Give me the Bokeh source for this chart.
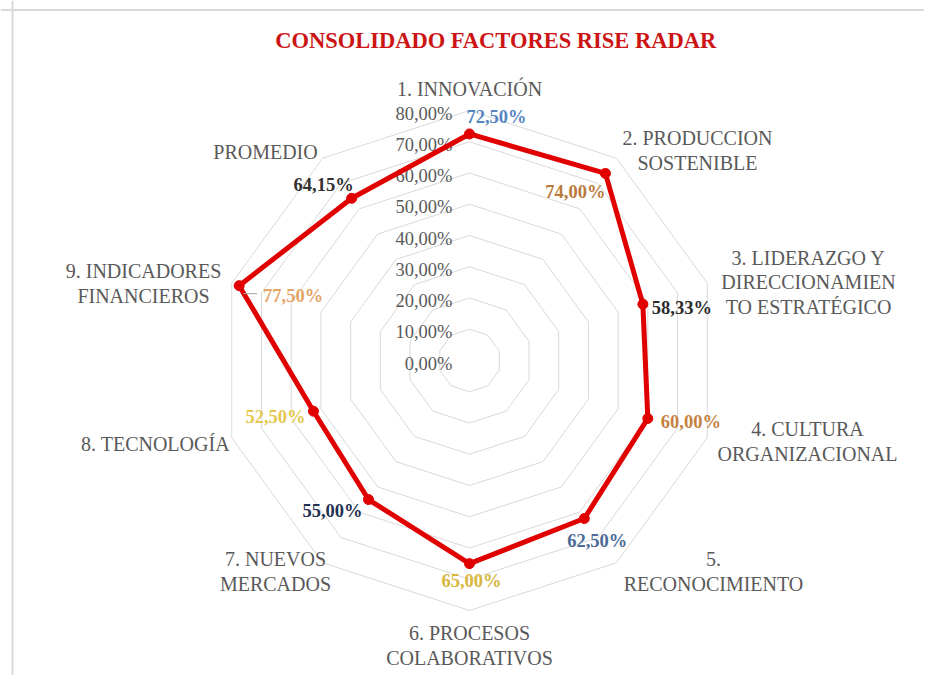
import math
from bokeh.plotting import figure
from bokeh.models import Range1d, ColumnDataSource, Span
from bokeh.core.properties import value
from bokeh.embed import file_html
from bokeh.resources import INLINE

# ---------------- data ----------------
categories = [
    "1. INNOVACIÓN",
    "2. PRODUCCION\nSOSTENIBLE",
    "3. LIDERAZGO Y\nDIRECCIONAMIEN\nTO ESTRATÉGICO",
    "4. CULTURA\nORGANIZACIONAL",
    "5.\nRECONOCIMIENTO",
    "6. PROCESOS\nCOLABORATIVOS",
    "7. NUEVOS\nMERCADOS",
    "8. TECNOLOGÍA",
    "9. INDICADORES\nFINANCIEROS",
    "PROMEDIO",
]
values = [72.50, 74.00, 58.33, 60.00, 62.50, 65.00, 55.00, 52.50, 77.50, 64.15]
value_labels = ["72,50%", "74,00%", "58,33%", "60,00%", "62,50%",
                "65,00%", "55,00%", "52,50%", "77,50%", "64,15%"]
ticks = [0, 10, 20, 30, 40, 50, 60, 70, 80]
tick_labels = ["0,00%", "10,00%", "20,00%", "30,00%", "40,00%",
               "50,00%", "60,00%", "70,00%", "80,00%"]

# ---------------- styles / layout ----------------
SERIF = value("Liberation Serif")
label_colors = ["#5585c0", "#b97a3c", "#2b2b2b", "#c4823e", "#4d6a96",
                "#d8b53c", "#1f3152", "#e4c74e", "#e3a467", "#333333"]
# data label offsets from their point (screen px: dx right, dy down)
label_offsets = [(27, -17), (-30, 19), (39, 4), (43, 4), (13, 22),
                 (2, 17), (-36, 11), (-38, 6), (54, 10), (-28, -13)]
# category label centres relative to chart centre (screen px)
cat_pos = [(0, -272), (228, -210), (339, -78), (338, 81), (244, 211),
           (0, 285), (-194, 211), (-314, 83), (-326, -77), (-204, -209)]

S = 3.125  # px per percentage unit
W, H = 924, 675
CX, CY = 469, 360  # chart centre in canvas px

def px_to_data(dx, dy):
    return dx / S, -dy / S

n = len(categories)
angles = [2 * math.pi * i / n for i in range(n)]  # clockwise from top

def polar(r, a):
    return r * math.sin(a), r * math.cos(a)

p = figure(width=W, height=H, output_backend="svg", toolbar_location=None,
           x_range=Range1d(-CX / S, (W - CX) / S),
           y_range=Range1d(-(H - CY) / S, CY / S),
           min_border=0)
p.axis.visible = False
p.grid.visible = False
p.outline_line_color = None
p.background_fill_color = "white"
p.border_fill_color = "white"

# frame border (top and left)
p.add_layout(Span(location=(CY - 9.5) / S, dimension="width",
                  line_color="#dadada", line_width=2))
p.add_layout(Span(location=-(CX - 12) / S, dimension="height",
                  line_color="#dadada", line_width=2))

# concentric decagon rings
for t in ticks[1:]:
    xs = [polar(t, a)[0] for a in angles] + [polar(t, angles[0])[0]]
    ys = [polar(t, a)[1] for a in angles] + [polar(t, angles[0])[1]]
    p.line(xs, ys, line_color="#d9d9d9", line_width=1)

# tick labels
p.text(x=[-17 / S] * len(ticks), y=[t - 1.0 for t in ticks], text=tick_labels,
       text_align="right", text_baseline="middle",
       text_font=SERIF, text_font_size="18.5px",
       text_color="#595959")

# data series
px_ = [polar(v, a)[0] for v, a in zip(values, angles)]
py_ = [polar(v, a)[1] for v, a in zip(values, angles)]
p.line(px_ + [px_[0]], py_ + [py_[0]], line_color="#e00000", line_width=5,
       line_join="round")
p.scatter(px_, py_, size=10, fill_color="#e00000", line_color="#e00000")

# leader line for 77,50%
i9 = 8
lx0, ly0 = px_[i9] + 4 / S, py_[i9] - 8 / S
p.line([lx0, lx0 + 14 / S], [ly0, ly0], line_color="#a6a6a6", line_width=1)

# data labels
lx = [x + px_to_data(*o)[0] for x, o in zip(px_, label_offsets)]
ly = [y + px_to_data(*o)[1] for y, o in zip(py_, label_offsets)]
src = ColumnDataSource(dict(x=lx, y=ly, t=value_labels, c=label_colors))
p.text(x="x", y="y", text="t", text_color="c", source=src,
       text_align="center", text_baseline="middle",
       text_font=SERIF, text_font_size="18.5px",
       text_font_style="bold")

# category labels
cx = [px_to_data(*q)[0] for q in cat_pos]
cy = [px_to_data(*q)[1] for q in cat_pos]
p.text(x=cx, y=cy, text=categories, text_align="center", text_baseline="middle",
       text_font=SERIF, text_font_size="20px",
       text_color="#595959", text_line_height=1.12)

# title
tx, ty = px_to_data(29, -320)
p.text(x=[tx], y=[ty], text=["CONSOLIDADO FACTORES  RISE RADAR"],
       text_align="center", text_baseline="middle",
       text_font=SERIF, text_font_size="22.5px",
       text_font_style="bold", text_color="#cc1414")

open("out.html", "w").write(file_html(p, INLINE))
